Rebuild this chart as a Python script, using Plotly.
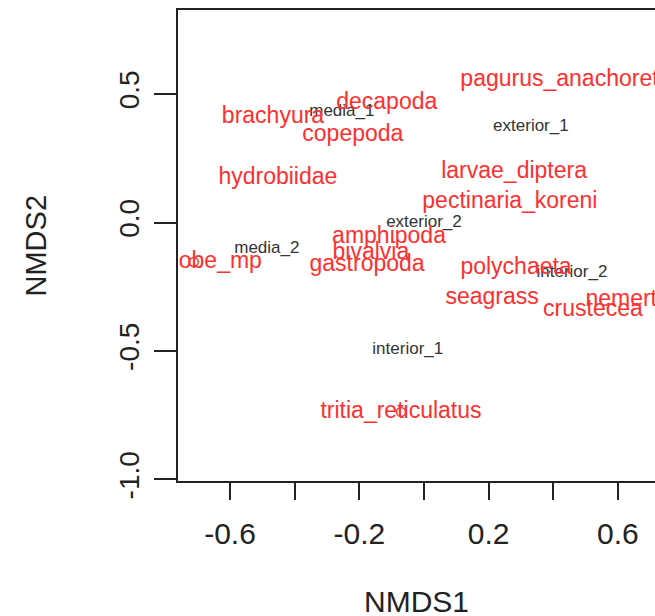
import plotly.graph_objects as go

# Species scores (red labels)
species = ["pagurus_anachoretus", "decapoda", "brachyura", "copepoda", "hydrobiidae",
           "larvae_diptera", "pectinaria_koreni", "amphipoda", "bivalvia", "gastropoda",
           "obe_mp", "polychaeta", "seagrass", "nemertea", "crustecea", "tritia_reticulatus"]
sp_x = [0.457, -0.115, -0.467, -0.220, -0.452, 0.279, 0.266, -0.108, -0.164, -0.176,
        -0.630, 0.285, 0.211, 0.650, 0.523, -0.071]
sp_y = [0.552, 0.466, 0.408, 0.341, 0.174, 0.196, 0.080, -0.057, -0.119, -0.166,
        -0.155, -0.178, -0.295, -0.303, -0.341, -0.737]

# Site scores (black labels)
sites = ["media_1", "exterior_1", "exterior_2", "media_2", "interior_2", "interior_1"]
site_x = [-0.254, 0.331, 0.000, -0.486, 0.458, -0.050]
site_y = [0.431, 0.372, 0.000, -0.104, -0.197, -0.494]

# Stray point symbols visible in the plot
pt_x = [-0.712, -0.071]
pt_y = [-0.154, -0.737]

# Axis ticks
x_tickvals = [-0.6, -0.4, -0.2, 0.0, 0.2, 0.4, 0.6]
x_ticktext = ["-0.6", "", "-0.2", "", "0.2", "", "0.6"]
y_tickvals = [-1.0, -0.5, 0.0, 0.5]
y_ticktext = ["-1.0", "-0.5", "0.0", "0.5"]

FONT = "Liberation Sans, Arial, Helvetica, sans-serif"
RED = "#ff2f2f"

fig = go.Figure()
fig.add_trace(go.Scatter(x=pt_x, y=pt_y, mode="markers",
                         marker=dict(symbol="circle-open", size=9, color=RED,
                                     line=dict(width=1.5, color=RED)),
                         hoverinfo="skip", showlegend=False, cliponaxis=True))
fig.add_trace(go.Scatter(x=site_x, y=site_y, mode="text", text=sites,
                         textposition="middle center",
                         textfont=dict(family=FONT, size=17, color="#333333"),
                         showlegend=False, cliponaxis=True))
fig.add_trace(go.Scatter(x=sp_x, y=sp_y, mode="text", text=species,
                         textposition="middle center",
                         textfont=dict(family=FONT, size=23, color=RED),
                         showlegend=False, cliponaxis=True))

fig.update_layout(
    width=655, height=616,
    margin=dict(l=178, r=0, t=10, b=135, pad=0),
    paper_bgcolor="white", plot_bgcolor="white",
    font=dict(family=FONT, color="black"),
    xaxis=dict(range=[-0.761, 0.715], showgrid=False, zeroline=False,
               showline=True, linecolor="#222", linewidth=1.5, mirror=True,
               ticks="outside", ticklen=17, tickwidth=1.5, tickcolor="#222",
               tickvals=x_tickvals, ticktext=x_ticktext,
               tickfont=dict(size=30, color="#222"), ticklabelstandoff=8),
    yaxis=dict(range=[-1.006, 0.827], showgrid=False, zeroline=False,
               showline=True, linecolor="#222", linewidth=1.5, mirror=False,
               ticks="outside", ticklen=22, tickwidth=1.5, tickcolor="#222",
               tickvals=y_tickvals, ticktext=y_ticktext, tickangle=-90,
               tickfont=dict(size=28, color="#222"), ticklabelstandoff=4),
    annotations=[
        dict(text="NMDS1", xref="paper", yref="paper", x=0.5, y=0,
             xanchor="center", yanchor="middle", yshift=-120, showarrow=False,
             font=dict(size=30, color="#222")),
        dict(text="NMDS2", xref="paper", yref="paper", x=0, y=0.5,
             xanchor="center", yanchor="middle", xshift=-143, textangle=-90,
             showarrow=False, font=dict(size=29, color="#222")),
    ],
)

fig.write_html("out.html")
